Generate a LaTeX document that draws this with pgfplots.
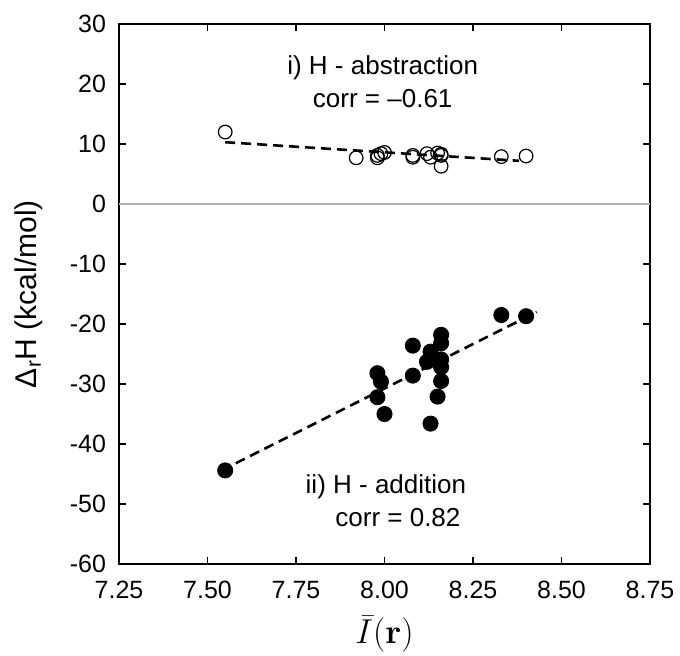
\documentclass[border=0pt]{standalone}
\usepackage[no-math]{fontspec}
\setmainfont{Liberation Sans}
\usepackage{pgfplots}
\pgfplotsset{compat=1.18}

\begin{document}
\begin{tikzpicture}
% page frame: 1 px of the reference = 0.5pt
\useasboundingbox (-59.5pt,-45.5pt) rectangle (280.5pt,282pt);
\begin{axis}[
    at={(0,0)}, anchor=south west,
    scale only axis,
    width=265.5pt, height=270pt,
    xmin=7.25, xmax=8.75,
    ymin=-60, ymax=30,
    xtick={7.25,7.5,7.75,8,8.25,8.5,8.75},
    ytick={-60,-50,-40,-30,-20,-10,0,10,20,30},
    tick align=inside,
    major tick length=3.5pt,
    axis line style={line width=0.7pt},
    tick style={line width=0.7pt, black},
    /pgf/number format/assume math mode=true,
    tick label style={font=\fontsize{12.5}{14}\selectfont},
    xticklabel style={yshift=-5pt, /pgf/number format/.cd, fixed, fixed zerofill, precision=2},
    yticklabel style={xshift=-3pt, /pgf/number format/.cd, fixed, precision=0},
    xlabel={$\bar{I}(\mathbf{r})$},
    xlabel style={font=\LARGE, at={(axis description cs:0.5,-0.13)}, anchor=center, inner sep=0pt},
    ylabel={Δ\textsubscript{r}H (kcal/mol)},
    ylabel style={font=\fontsize{15}{17}\selectfont, at={(axis description cs:-0.17,0.5)}, anchor=center},
    clip=false,
]
% zero line
\addplot[black!30, line width=0.6pt] coordinates {(7.25,0) (8.75,0)};

% fits
\addplot[black, line width=1.3pt, dash pattern=on 5pt off 3pt] coordinates {(7.55,10.3) (8.38,7.2)};
\addplot[black, line width=1.3pt, dash pattern=on 5pt off 3pt] coordinates {(7.58,-43.2) (8.43,-18.0)};

% H-abstraction
\addplot[only marks, mark=o, mark size=3.4pt, mark options={line width=0.6pt, fill=white}] coordinates {
(7.55,12.0) (7.92,7.7) (7.98,8.1) (7.98,7.7) (7.99,8.4) (8.00,8.6)
(8.08,8.1) (8.08,7.8) (8.12,8.4) (8.13,7.8) (8.15,8.5) (8.16,8.1)
(8.16,8.3) (8.16,6.3) (8.33,7.9) (8.40,8.0)
};

% H-addition
\addplot[only marks, mark=*, mark size=3.8pt, black] coordinates {
(7.55,-44.4) (7.98,-28.2) (7.99,-29.6) (7.98,-32.2) (8.00,-35.0)
(8.08,-23.6) (8.08,-28.6) (8.13,-36.6) (8.13,-24.6) (8.12,-26.3)
(8.15,-32.1) (8.16,-21.8) (8.16,-23.2) (8.16,-25.9) (8.16,-27.2)
(8.16,-29.5) (8.33,-18.5) (8.40,-18.7)
};

\node[font=\fontsize{13}{16.5}\selectfont, align=center] at (axis cs:7.995,20.45)
  {i) H - abstraction\\corr = –0.61};
\node[font=\fontsize{13}{16.5}\selectfont, align=center] at (axis cs:8.004,-49.5)
  {ii) H - addition\\\hspace*{12pt}corr = 0.82};
\end{axis}
\end{tikzpicture}
\end{document}
